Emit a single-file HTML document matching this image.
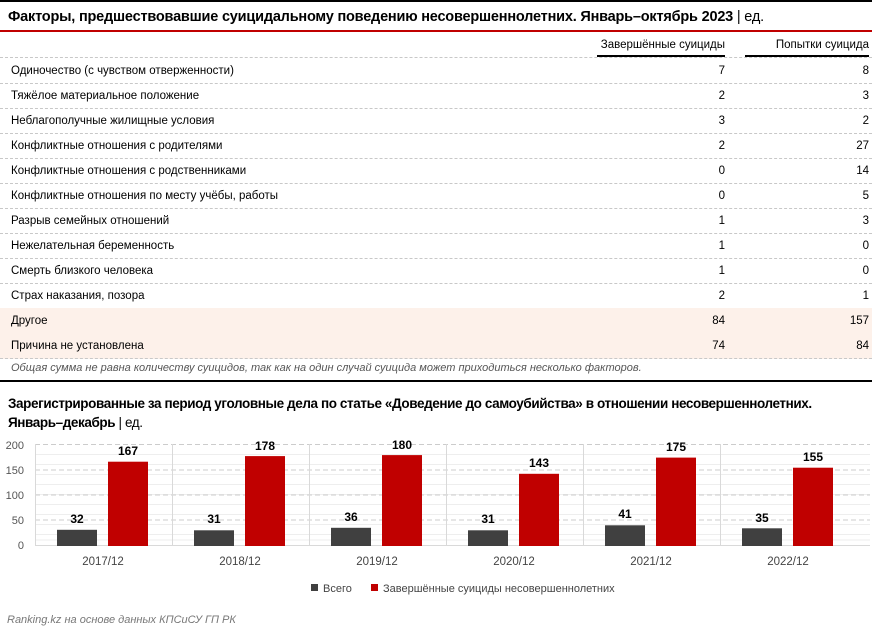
<!DOCTYPE html>
<html><head><meta charset="utf-8"><style>
body{margin:0;width:872px;height:632px;background:#fff;font-family:"Liberation Sans Narrow","Liberation Sans",sans-serif;position:relative;overflow:hidden;color:#000}
.a{position:absolute;white-space:nowrap}
.row{position:absolute;left:0;width:872px;height:25px;border-bottom:1px dashed #c8c8c8;font-size:11.5px}
.row span{position:absolute;top:7px}
</style></head><body>
<div class="a" style="left:0;top:0;width:872px;height:2px;background:#000"></div>
<div class="a" style="left:8px;top:9px;font-size:14.5px;font-weight:bold;letter-spacing:-0.2px">Факторы, предшествовавшие суицидальному поведению несовершеннолетних. Январь–октябрь 2023 <span style="font-weight:normal">| ед.</span></div>
<div class="a" style="left:0;top:30px;width:872px;height:2px;background:#c00000"></div>
<div class="a" style="left:597px;top:39px;width:128px;text-align:right;font-size:11.5px;padding-bottom:4px;border-bottom:2px solid #000">Завершённые суициды</div>
<div class="a" style="left:745px;top:39px;width:124px;text-align:right;font-size:11.5px;padding-bottom:4px;border-bottom:2px solid #000">Попытки суицида</div>
<div class="a" style="left:0;top:57px;width:872px;border-top:1px dashed #c8c8c8"></div>
<div style="position:absolute;top:58px;left:0">
<div class="row" style="top:0"><span style="left:11px">Одиночество (с чувством отверженности)</span><span style="right:147px">7</span><span style="right:3px">8</span></div>
<div class="row" style="top:25px"><span style="left:11px">Тяжёлое материальное положение</span><span style="right:147px">2</span><span style="right:3px">3</span></div>
<div class="row" style="top:50px"><span style="left:11px">Неблагополучные жилищные условия</span><span style="right:147px">3</span><span style="right:3px">2</span></div>
<div class="row" style="top:75px"><span style="left:11px">Конфликтные отношения с родителями</span><span style="right:147px">2</span><span style="right:3px">27</span></div>
<div class="row" style="top:100px"><span style="left:11px">Конфликтные отношения с родственниками</span><span style="right:147px">0</span><span style="right:3px">14</span></div>
<div class="row" style="top:125px"><span style="left:11px">Конфликтные отношения по месту учёбы, работы</span><span style="right:147px">0</span><span style="right:3px">5</span></div>
<div class="row" style="top:150px"><span style="left:11px">Разрыв семейных отношений</span><span style="right:147px">1</span><span style="right:3px">3</span></div>
<div class="row" style="top:175px"><span style="left:11px">Нежелательная беременность</span><span style="right:147px">1</span><span style="right:3px">0</span></div>
<div class="row" style="top:200px"><span style="left:11px">Смерть близкого человека</span><span style="right:147px">1</span><span style="right:3px">0</span></div>
<div class="row" style="top:225px"><span style="left:11px">Страх наказания, позора</span><span style="right:147px">2</span><span style="right:3px">1</span></div>
<div class="row" style="top:250px;background:#fdf1ea"><span style="left:11px">Другое</span><span style="right:147px">84</span><span style="right:3px">157</span></div>
<div class="row" style="top:275px;background:#fdf1ea"><span style="left:11px">Причина не установлена</span><span style="right:147px">74</span><span style="right:3px">84</span></div>
</div>
<div class="a" style="left:11px;top:362px;font-size:11px;font-style:italic;color:#555">Общая сумма не равна количеству суицидов, так как на один случай суицида может приходиться несколько факторов.</div>
<div class="a" style="left:0;top:380px;width:872px;height:2px;background:#000"></div>
<div class="a" style="left:8px;top:394px;font-size:13.5px;font-weight:bold;line-height:19px;font-family:'Liberation Sans',sans-serif;letter-spacing:-0.4px">Зарегистрированные за период уголовные дела по статье «Доведение до самоубийства» в отношении несовершеннолетних.<br>Январь–декабрь <span style="font-weight:normal">| ед.</span></div>
<svg class="a" style="left:0;top:430px" width="872" height="202" font-family="Liberation Sans,sans-serif">
<g stroke="#eee" stroke-width="1">
<line x1="35" x2="870" y1="24.5" y2="24.5"/><line x1="35" x2="870" y1="34.5" y2="34.5"/><line x1="35" x2="870" y1="44.5" y2="44.5"/><line x1="35" x2="870" y1="54.5" y2="54.5"/>
<line x1="35" x2="870" y1="74.5" y2="74.5"/><line x1="35" x2="870" y1="84.5" y2="84.5"/><line x1="35" x2="870" y1="94.5" y2="94.5"/><line x1="35" x2="870" y1="104.5" y2="104.5"/>
<line x1="35" x2="870" y1="64.5" y2="64.5"/><line x1="35" x2="870" y1="110" y2="110"/>
</g>
<g stroke="#ccc" stroke-dasharray="5,3"><line x1="35" x2="870" y1="14.5" y2="14.5"/><line x1="35" x2="870" y1="40" y2="40"/><line x1="35" x2="870" y1="65" y2="65"/><line x1="35" x2="870" y1="90" y2="90"/></g>
<g stroke="#d9d9d9"><line x1="35" x2="870" y1="115.5" y2="115.5"/>
<line x1="35.5" x2="35.5" y1="14" y2="116"/><line x1="172.5" x2="172.5" y1="14" y2="116"/><line x1="309.5" x2="309.5" y1="14" y2="116"/><line x1="446.5" x2="446.5" y1="14" y2="116"/><line x1="583.5" x2="583.5" y1="14" y2="116"/><line x1="720.5" x2="720.5" y1="14" y2="116"/></g>
<g font-size="11" fill="#555" text-anchor="end"><text x="24" y="19">200</text><text x="24" y="44">150</text><text x="24" y="69">100</text><text x="24" y="94">50</text><text x="24" y="119">0</text></g>
<g fill="#404040">
<rect x="57" y="99.8" width="40" height="16.2"/><rect x="194" y="100.3" width="40" height="15.7"/><rect x="331" y="97.8" width="40" height="18.2"/><rect x="468" y="100.3" width="40" height="15.7"/><rect x="605" y="95.3" width="40" height="20.7"/><rect x="742" y="98.3" width="40" height="17.7"/></g>
<g fill="#c00000">
<rect x="108" y="31.7" width="40" height="84.3"/><rect x="245" y="26.1" width="40" height="89.9"/><rect x="382" y="25.1" width="40" height="90.9"/><rect x="519" y="43.8" width="40" height="72.2"/><rect x="656" y="27.6" width="40" height="88.4"/><rect x="793" y="37.7" width="40" height="78.3"/></g>
<g font-size="12" font-weight="bold" text-anchor="middle">
<text x="77" y="93">32</text><text x="214" y="93">31</text><text x="351" y="91">36</text><text x="488" y="93">31</text><text x="625" y="88">41</text><text x="762" y="92">35</text>
<text x="128" y="25">167</text><text x="265" y="20">178</text><text x="402" y="19">180</text><text x="539" y="37">143</text><text x="676" y="21">175</text><text x="813" y="31">155</text></g>
<g font-size="11.5" fill="#444" text-anchor="middle"><text x="103" y="135">2017/12</text><text x="240" y="135">2018/12</text><text x="377" y="135">2019/12</text><text x="514" y="135">2020/12</text><text x="651" y="135">2021/12</text><text x="788" y="135">2022/12</text></g>
<rect x="311" y="154" width="7" height="7" fill="#404040"/><text x="323" y="162" font-size="11" fill="#444">Всего</text>
<rect x="371" y="154" width="7" height="7" fill="#c00000"/><text x="383" y="162" font-size="11" fill="#444">Завершённые суициды несовершеннолетних</text>
<text x="7" y="193" font-size="11" font-style="italic" fill="#777">Ranking.kz на основе данных КПСиСУ ГП РК</text>
</svg>
</body></html>
